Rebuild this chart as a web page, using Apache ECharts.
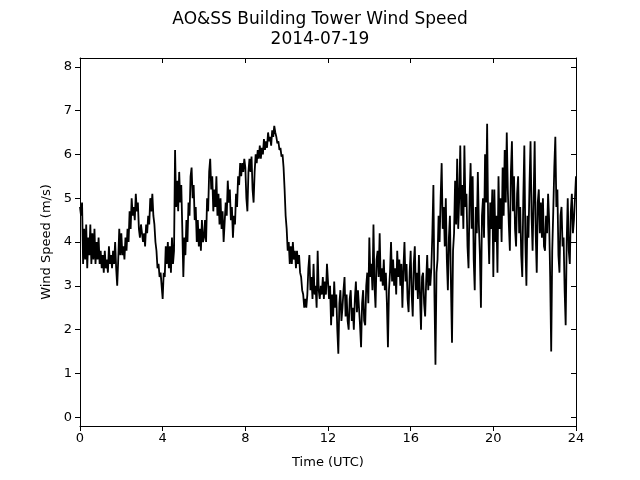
<!DOCTYPE html>
<html>
<head>
<meta charset="utf-8">
<script src="https://cdn.jsdelivr.net/npm/echarts@6/dist/echarts.min.js"></script>
<style>html,body{margin:0;padding:0;background:#fff}#c{width:640px;height:480px}</style>
</head>
<body>
<div id="c"></div>
<script>
const titleText = "AO&SS Building Tower Wind Speed";
const subTitleText = "2014-07-19";
const xLabel = "Time (UTC)";
const yLabel = "Wind Speed (m/s)";
const xTicks = [0, 4, 8, 12, 16, 20, 24];
const yTicks = [0, 1, 2, 3, 4, 5, 6, 7, 8];
const sampleStepHours = 0.05; // readings every 3 minutes from 00:00
const windSpeed = [
  // hour 0
  4.8, 4.6, 4.9, 3.5, 4.3, 3.6, 4.4, 3.4, 4.1, 3.7, 4.4, 3.5, 4.2, 3.6, 4.3, 3.5, 4.0, 3.6, 4.1, 3.5,
  // hour 1
  3.8, 3.4, 3.7, 3.3, 3.8, 3.4, 3.6, 3.3, 3.9, 3.5, 3.7, 3.4, 3.8, 3.5, 4.0, 3.4, 3.0, 3.6, 4.3, 3.7,
  // hour 2
  4.2, 3.7, 3.9, 3.6, 4.1, 3.8, 4.3, 4.0, 4.7, 4.3, 5.0, 4.6, 4.8, 4.5, 5.1, 4.7, 4.9, 4.3, 4.1, 4.4,
  // hour 3
  4.4, 4.0, 4.2, 3.9, 4.4, 4.2, 4.6, 4.4, 5.0, 4.7, 5.1, 4.6, 4.4, 4.0, 3.8, 3.4, 3.5, 3.2, 3.3, 3.0,
  // hour 4
  2.7, 3.3, 3.2, 3.9, 3.5, 4.0, 3.4, 3.9, 3.3, 4.1, 3.5, 3.8, 6.1, 4.8, 5.4, 4.7, 5.6, 4.9, 5.3, 4.3,
  // hour 5
  3.2, 4.1, 3.7, 4.5, 4.0, 4.9, 4.6, 5.5, 5.7, 5.0, 5.3, 4.5, 4.8, 4.0, 4.5, 3.9, 4.3, 3.8, 4.5, 4.0,
  // hour 6
  4.1, 4.5, 4.0, 5.0, 4.7, 5.6, 5.9, 5.2, 5.5, 4.7, 5.2, 4.8, 5.5, 4.6, 5.1, 4.4, 5.0, 4.3, 4.7, 4.0,
  // hour 7
  4.0, 4.9, 4.6, 5.4, 4.9, 5.2, 4.5, 4.8, 4.1, 4.6, 4.4, 5.1, 4.8, 5.5, 5.3, 5.8, 5.5, 5.8, 5.6, 5.9,
  // hour 8
  5.7, 5.0, 4.7, 5.6, 5.9, 5.6, 5.95, 5.2, 4.9, 5.6, 6.0, 5.8, 6.1, 5.9, 6.2, 5.9, 6.15, 6.0, 6.35, 6.1,
  // hour 9
  6.3, 6.15, 6.5, 6.3, 6.4, 6.2, 6.55, 6.4, 6.65, 6.5, 6.4, 6.25, 6.3, 6.1, 6.15, 5.95, 6.0, 5.7, 5.2, 4.6,
  // hour 10
  4.3, 3.8, 4.0, 3.5, 3.9, 3.5, 4.0, 3.6, 3.8, 3.4, 3.8, 3.5, 3.7, 3.3, 3.2, 2.9, 2.8, 2.5, 2.7, 2.5,
  // hour 11
  2.8, 3.4, 3.7, 2.9, 3.2, 2.7, 3.5, 2.8, 3.0, 2.5, 3.8, 2.9, 2.7, 3.0, 2.8, 3.2, 2.7, 3.1, 2.8, 3.5,
  // hour 12
  3.5, 2.7, 3.0, 2.1, 2.8, 2.3, 3.1, 2.5, 2.8, 2.0, 1.45, 2.6, 2.9, 2.2, 2.5, 2.9, 3.2, 2.3, 2.8, 2.2,
  // hour 13
  2.0, 2.7, 2.9, 2.2, 2.5, 2.0, 2.7, 3.1, 2.4, 2.9, 2.5, 2.1, 1.6, 2.6, 2.9, 2.2, 2.1, 3.0, 3.3, 2.6,
  // hour 14
  4.1, 3.2, 3.5, 2.9, 4.4, 3.0, 2.5, 3.6, 3.8, 3.2, 4.2, 3.1, 3.4, 3.0, 3.6, 2.9, 3.3, 2.6, 1.6, 2.9,
  // hour 15
  3.3, 4.0, 3.1, 3.6, 3.0, 3.4, 2.8, 3.8, 3.2, 3.6, 3.0, 3.5, 2.5, 3.4, 4.0, 3.1, 3.5, 2.7, 2.4, 3.3,
  // hour 16
  3.8, 2.8, 2.3, 3.5, 3.9, 2.9, 3.3, 2.7, 3.7, 2.8, 2.0, 3.2, 3.3, 2.6, 2.3, 3.1, 3.7, 2.9, 3.4, 3.0,
  // hour 17
  3.4, 4.2, 5.3, 2.8, 1.2, 3.3, 3.6, 4.6, 4.0, 5.0, 5.8, 4.3, 4.8, 3.9, 5.0, 3.6, 2.9, 4.1, 4.6, 3.0,
  // hour 18
  1.7, 3.8, 4.2, 5.4, 4.4, 5.9, 4.3, 5.0, 6.2, 4.6, 5.3, 4.3, 6.2, 4.8, 5.1, 3.9, 3.4, 5.0, 5.8, 4.3,
  // hour 19
  5.5, 3.6, 2.9, 4.8, 4.2, 5.6, 4.4, 3.7, 2.5, 4.6, 5.0, 4.1, 6.0, 4.9, 6.7, 4.4, 3.5, 4.9, 4.3, 5.2,
  // hour 20
  3.2, 5.2, 4.0, 4.6, 3.3, 5.5, 4.3, 5.0, 4.0, 5.7, 4.6, 6.1, 4.9, 6.5, 5.2, 4.4, 3.8, 5.6, 6.3, 4.7,
  // hour 21
  5.5, 4.3, 3.9, 5.1, 5.5, 4.2, 4.8, 3.7, 3.2, 5.0, 6.2, 4.0, 3.0, 4.6, 4.1, 5.3, 6.3, 4.6, 3.8, 5.0,
  // hour 22
  6.3, 4.2, 3.3, 4.9, 5.2, 4.2, 4.9, 4.1, 5.0, 3.9, 3.8, 4.6, 4.2, 5.1, 4.5, 3.2, 1.5, 3.8, 4.7, 5.7,
  // hour 23
  6.4, 4.8, 5.2, 3.7, 3.3, 4.6, 4.8, 3.9, 4.1, 2.9, 2.1, 4.0, 5.0, 3.8, 3.5, 4.7, 5.1, 4.2, 4.5, 5.0,
  // 24:00
  5.5
];

const seriesData = windSpeed.map((v, i) => [+(i * sampleStepHours).toFixed(3), v]);

const chart = echarts.init(document.getElementById('c'), null, {renderer: 'canvas'});
const font = 'DejaVu Sans';
chart.setOption({
  animation: false,
  backgroundColor: '#fff',
  title: {
    text: titleText + '\n' + subTitleText,
    left: 'center',
    top: 5,
    textStyle: {fontFamily: font, fontSize: 17, fontWeight: 'normal', color: '#000', lineHeight: 20}
  },
  grid: {left: 80, top: 58, width: 496, height: 368, show: false},
  xAxis: [{
    type: 'value', min: 0, max: 24, interval: 4,
    name: xLabel, nameLocation: 'middle', nameGap: 30,
    nameTextStyle: {fontFamily: font, fontSize: 13, color: '#000'},
    axisLine: {show: true, onZero: false, lineStyle: {color: '#000', width: 1}},
    axisTick: {show: true, inside: false, length: 5, lineStyle: {color: '#000'}},
    axisLabel: {fontFamily: font, fontSize: 13, color: '#000', margin: 6},
    splitLine: {show: false}
  }, {
    type: 'value', min: 0, max: 24, interval: 4, position: 'top',
    axisLine: {show: true, onZero: false, lineStyle: {color: '#000', width: 1}},
    axisTick: {show: true, inside: true, length: 5, lineStyle: {color: '#000'}},
    axisLabel: {show: false},
    splitLine: {show: false}
  }],
  yAxis: [{
    type: 'value', min: -0.2, max: 8.2,
    name: yLabel, nameLocation: 'middle', nameGap: 27,
    nameTextStyle: {fontFamily: font, fontSize: 13, color: '#000'},
    axisLine: {show: true, onZero: false, lineStyle: {color: '#000', width: 1}},
    axisTick: {show: true, inside: false, length: 5, lineStyle: {color: '#000'}, customValues: yTicks},
    axisLabel: {fontFamily: font, fontSize: 13, color: '#000', margin: 8, customValues: yTicks},
    splitLine: {show: false}
  }, {
    type: 'value', min: -0.2, max: 8.2, position: 'right',
    axisLine: {show: true, onZero: false, lineStyle: {color: '#000', width: 1}},
    axisTick: {show: true, inside: true, length: 5, lineStyle: {color: '#000'}, customValues: yTicks},
    axisLabel: {show: false, customValues: yTicks},
    splitLine: {show: false}
  }],
  series: [{
    type: 'line',
    xAxisIndex: 0, yAxisIndex: 0,
    data: seriesData,
    showSymbol: false,
    symbol: 'none',
    lineStyle: {color: '#000', width: 1.8},
    z: 3
  }]
});
</script>
</body>
</html>
